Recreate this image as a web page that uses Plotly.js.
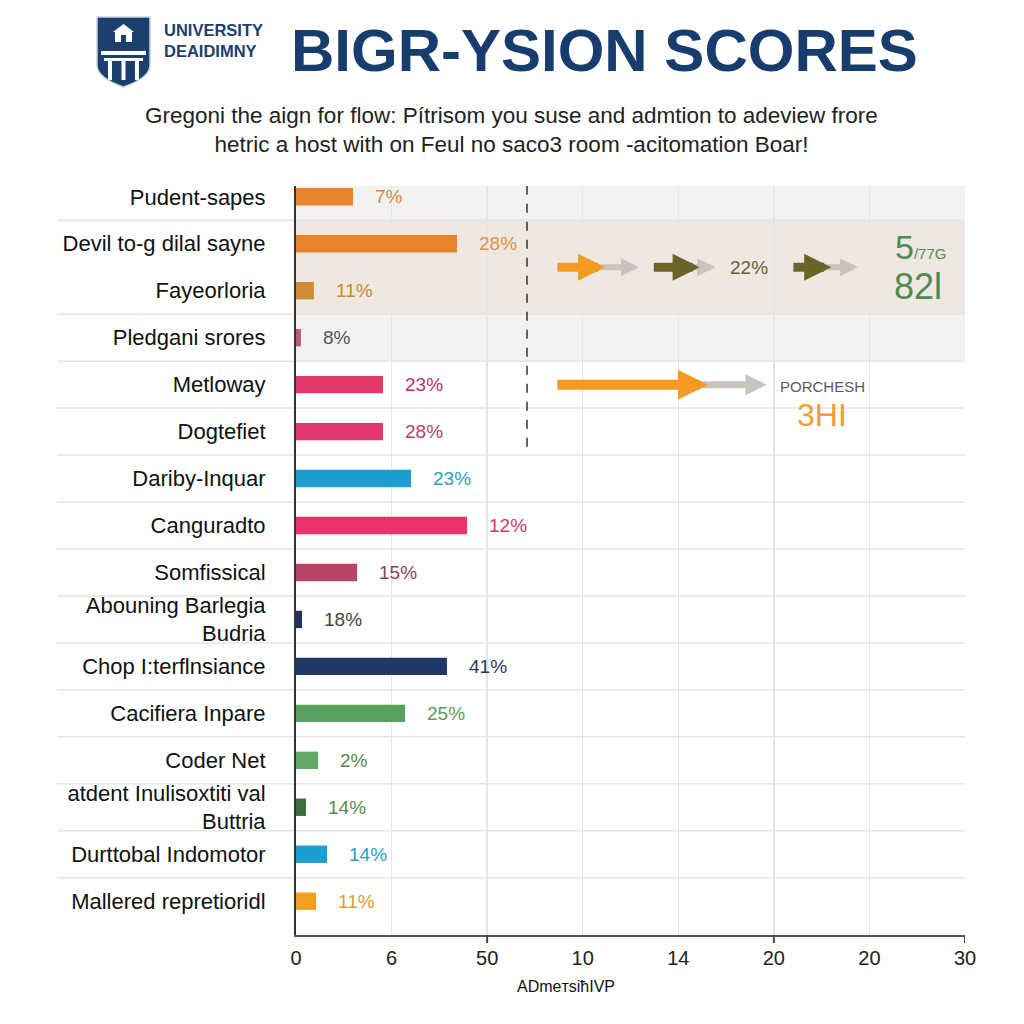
<!DOCTYPE html>
<html>
<head>
<meta charset="utf-8">
<script src="https://cdn.plot.ly/plotly-3.0.1.min.js"></script>
<style>html,body{margin:0;padding:0;background:#fff;}#chart{width:1024px;height:1024px;}</style>
</head>
<body>
<div id="chart"></div>
<script>
// ---- data ----
const categories = ["Pudent-sapes","Devil to-g dilal sayne","Fayeorloria","Pledgani srores","Metloway","Dogtefiet","Dariby-Inquar","Canguradto","Somfissical","Abouning Barlegia<br>Budria","Chop I:terflnsiance","Cacifiera Inpare","Coder Net","atdent Inulisoxtiti val<br>Buttria","Durttobal Indomotor","Mallered repretioridl"];
const values = [2.56, 7.22, 0.8, 0.22, 3.9, 3.9, 5.16, 7.67, 2.74, 0.27, 6.77, 4.89, 0.99, 0.45, 1.39, 0.9];
const pctLabels = ["7%","28%","11%","8%","23%","28%","23%","12%","15%","18%","41%","25%","2%","14%","14%","11%"];
const xTickText = ["0","6","50","10","14","20","20","30"];

// ---- styles ----
const barColors = ["#e8832a","#e8832a","#cf8a35","#b85c7a","#e33a6a","#e0386a","#1a9fd0","#e8336b","#b84565","#1f3559","#1f3a66","#5aa05e","#62a867","#3d6e42","#1a9fd0","#f0a020"];
const labelColors = ["#e08a40","#e0904a","#c88a30","#555555","#c0336a","#b04070","#2a9fc0","#d03a6a","#8a4060","#444444","#2a3a55","#5a9a5a","#5a8a4a","#5a8a4a","#2a9fc0","#e0a030"];

const FONT = "Liberation Sans, Arial, sans-serif";
const L = 296, R = 965, T = 186, B = 935;
const px2x = p => (p - L) / (R - L);
const py2y = p => (B - p) / (B - T);
const xMax = 30;
const tickVals = xTickText.map((_, k) => k * xMax / (xTickText.length - 1));

const trace = {
  type: "bar", orientation: "h",
  x: values, y: categories,
  marker: {color: barColors},
  width: 0.37,
  hoverinfo: "skip"
};

const shapes = [];
// background bands
shapes.push({type:"rect", xref:"paper", yref:"y", x0:0, x1:1, y0:-1, y1:3.5, fillcolor:"#f4f2f0", line:{width:0}, layer:"below"});
shapes.push({type:"rect", xref:"paper", yref:"y", x0:0, x1:1, y0:0.5, y1:2.5, fillcolor:"#efe8e0", line:{width:0}, layer:"below"});
// row separators
for (let i = 0; i < categories.length - 1; i++) {
  if (i === 1) continue;
  shapes.push({type:"line", xref:"paper", yref:"y", x0:px2x(57), x1:1, y0:i+0.5, y1:i+0.5, line:{color:"#e6e6e6", width:1.5}, layer:"below"});
}
// dashed marker line
shapes.push({type:"line", xref:"x", yref:"y", x0:10.36, x1:10.36, y0:-1, y1:5.5, line:{color:"#333", width:1.5, dash:"dash"}});
// tick marks
[2,5,7].forEach(k => shapes.push({type:"line", xref:"x", yref:"paper", x0:tickVals[k], x1:tickVals[k], y0:0, y1:-8/(B-T), line:{color:"#444", width:2}}));

// logo shield
const shield = `M ${px2x(97)},${py2y(17)} L ${px2x(150)},${py2y(17)} L ${px2x(150)},${py2y(66)} Q ${px2x(149)},${py2y(78)} ${px2x(123.5)},${py2y(87)} Q ${px2x(98)},${py2y(78)} ${px2x(97)},${py2y(66)} Z`;
shapes.push({type:"path", xref:"paper", yref:"paper", path:shield, fillcolor:"#1c3f6e", line:{color:"#c8d2e0", width:1.5}});
const house = `M ${px2x(113)},${py2y(32)} L ${px2x(123.5)},${py2y(24)} L ${px2x(134)},${py2y(32)} L ${px2x(132)},${py2y(32)} L ${px2x(132)},${py2y(42)} L ${px2x(115)},${py2y(42)} L ${px2x(115)},${py2y(32)} Z`;
shapes.push({type:"path", xref:"paper", yref:"paper", path:house, fillcolor:"#ffffff", line:{width:0}});
shapes.push({type:"rect", xref:"paper", yref:"paper", x0:px2x(121), x1:px2x(126), y0:py2y(42), y1:py2y(35), fillcolor:"#1c3f6e", line:{width:0}});
shapes.push({type:"rect", xref:"paper", yref:"paper", x0:px2x(101), x1:px2x(146), y0:py2y(55), y1:py2y(51), fillcolor:"#ffffff", line:{width:0}});
shapes.push({type:"rect", xref:"paper", yref:"paper", x0:px2x(104), x1:px2x(143), y0:py2y(61), y1:py2y(58), fillcolor:"#ffffff", line:{width:0}});
[[108,112],[121.5,125.5],[135,139]].forEach(c => shapes.push({type:"rect", xref:"paper", yref:"paper", x0:px2x(c[0]), x1:px2x(c[1]), y0:py2y(80), y1:py2y(61), fillcolor:"#ffffff", line:{width:0}}));

const annotations = [];
const txt = (o) => Object.assign({showarrow:false, xanchor:"center", yanchor:"middle"}, o);
// value labels
categories.forEach((c, i) => {
  annotations.push(txt({x: values[i], y: i, xref:"x", yref:"y", text: pctLabels[i], xanchor:"left", xshift:20, font:{family:FONT, size:19, color:labelColors[i]}}));
});
// flow arrows (tail x, head x, row y, color, width)
const flowArrows = [
  [11.66, 15.38, 1.5, "#c9c3bd", 6], [11.66, 13.86, 1.5, "#f39a1f", 9],
  [15.98, 18.8, 1.5, "#c9c3bd", 6], [15.98, 18.1, 1.5, "#6b6328", 9],
  [22.24, 25.2, 1.5, "#c9c3bd", 6], [22.24, 24.0, 1.5, "#6b6328", 9],
  [11.66, 21.1, 4, "#c9c3bd", 7], [11.66, 18.47, 4, "#f39a1f", 10]
];
flowArrows.forEach(a => annotations.push({x:a[1], y:a[2], ax:a[0], ay:a[2], xref:"x", yref:"y", axref:"x", ayref:"y", text:"", showarrow:true, arrowhead:2, arrowsize:0.6, arrowwidth:a[4], arrowcolor:a[3]}));
annotations.push(txt({x:20.3, y:1.5, xref:"x", yref:"y", text:"22%", font:{family:FONT, size:19, color:"#6b5a3a"}}));
annotations.push(txt({x:px2x(920), y:1.5, xref:"paper", yref:"y", text:"5<span style='font-size:15px'>/77G</span>", yshift:20, font:{family:FONT, size:34, color:"#4f8a55"}}));
annotations.push(txt({x:px2x(918), y:1.5, xref:"paper", yref:"y", text:"82l", yshift:-19, font:{family:FONT, size:36, color:"#4f8a55"}}));
annotations.push(txt({x:px2x(822), y:4, xref:"paper", yref:"y", text:"PORCHESH", yshift:-2, font:{family:FONT, size:15, color:"#5a5a5a"}}));
annotations.push(txt({x:px2x(822), y:4, xref:"paper", yref:"y", text:"3HI", yshift:-30, font:{family:FONT, size:32, color:"#f0a030"}}));

// header
annotations.push(txt({x:px2x(604), y:py2y(50), xref:"paper", yref:"paper", text:"<b>BIGR-YSION SCORES</b>", font:{family:FONT, size:60, color:"#163d6e"}}));
annotations.push(txt({x:px2x(162), y:py2y(41), xref:"paper", yref:"paper", xanchor:"left", align:"left", text:"<b>UNIVERSITY<br>DEAIDIMNY</b>", font:{family:FONT, size:16.5, color:"#1c3f6e"}}));
annotations.push(txt({x:px2x(511), y:py2y(130), xref:"paper", yref:"paper", text:"Gregoni the aign for flow: Pítrisom you suse and admtion to adeview frore<br>hetric a host with on Feul no saco3 room -acitomation Boar!", font:{family:FONT, size:22.5, color:"#222"}}));
// axis title
annotations.push(txt({x:px2x(566), y:py2y(986), xref:"paper", yref:"paper", text:"ADmeтsiћIVP", font:{family:FONT, size:16, color:"#111"}}));

const layout = {
  width: 1024, height: 1024,
  margin: {l: L, r: 1024 - R, t: T, b: 1024 - B, pad: 0},
  paper_bgcolor: "#ffffff", plot_bgcolor: "#ffffff",
  showlegend: false,
  font: {family: FONT, color: "#111"},
  xaxis: {
    range: [0, xMax], tickvals: tickVals, ticktext: xTickText,
    showgrid: true, gridcolor: "#e6e6e6", gridwidth: 1.5,
    zeroline: false, showline: true, linecolor: "#555", linewidth: 2,
    ticks: "", ticklabelstandoff: 4,
    tickfont: {family: FONT, size: 20, color: "#222"}
  },
  yaxis: {
    type: "category", categoryorder: "array", categoryarray: categories,
    range: [15.72, -0.23],
    showgrid: false, zeroline: false, showline: true, linecolor: "#333", linewidth: 2,
    ticks: "", ticklabelstandoff: 24,
    tickfont: {family: FONT, size: 22, color: "#111"}
  },
  shapes: shapes,
  annotations: annotations
};

Plotly.newPlot("chart", [trace], layout, {displayModeBar: false, staticPlot: true});
</script>
</body>
</html>
